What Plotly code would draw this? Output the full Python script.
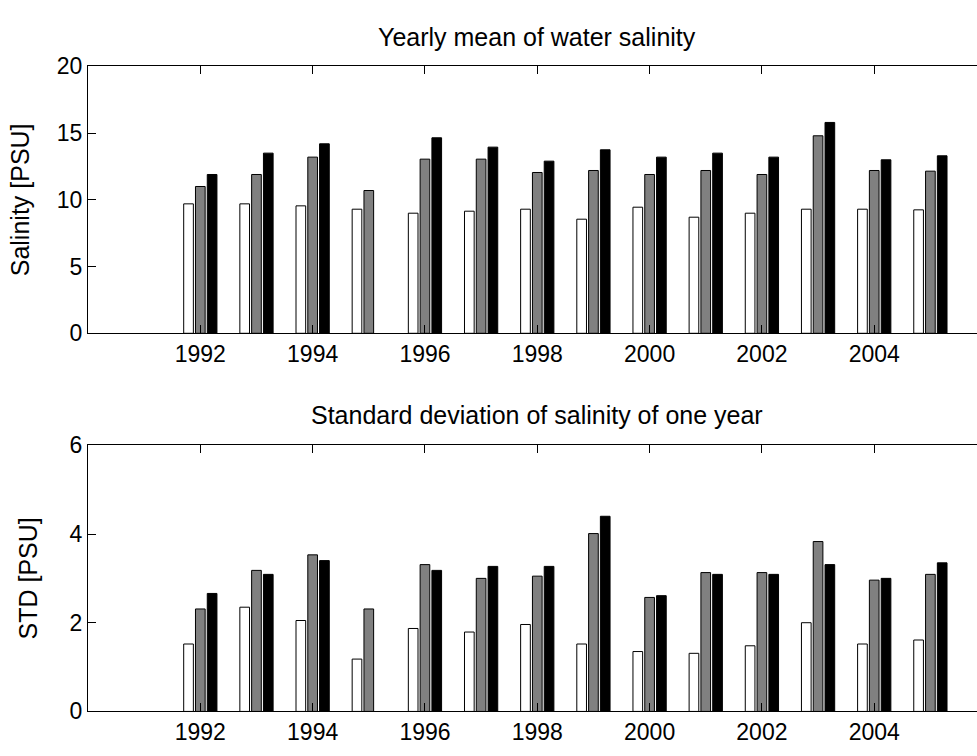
import plotly.graph_objects as go

years = list(range(1992, 2006))
tick_years = [1992, 1994, 1996, 1998, 2000, 2002, 2004]

mean_white = [9.7, 9.7, 9.55, 9.3, 9.0, 9.15, 9.3, 8.55, 9.45, 8.7, 9.0, 9.3, 9.3, 9.25]
mean_gray = [11.0, 11.9, 13.2, 10.7, 13.05, 13.05, 12.05, 12.2, 11.9, 12.2, 11.9, 14.8, 12.2, 12.15]
mean_black = [11.9, 13.5, 14.2, None, 14.65, 13.95, 12.9, 13.75, 13.2, 13.5, 13.2, 15.8, 13.0, 13.3]

std_white = [1.52, 2.35, 2.05, 1.18, 1.87, 1.79, 1.96, 1.52, 1.35, 1.31, 1.48, 2.0, 1.52, 1.61]
std_gray = [2.31, 3.18, 3.53, 2.31, 3.31, 3.0, 3.05, 4.01, 2.57, 3.13, 3.13, 3.83, 2.96, 3.09]
std_black = [2.66, 3.09, 3.40, None, 3.18, 3.27, 3.27, 4.40, 2.61, 3.09, 3.09, 3.31, 3.0, 3.35]

colors = ["#ffffff", "#808080", "#000000"]
FONT = "Liberation Sans, Arial, Helvetica, sans-serif"

fig = go.Figure()
for vals, c in zip([mean_white, mean_gray, mean_black], colors):
    fig.add_trace(go.Bar(x=years, y=vals, xaxis="x", yaxis="y", showlegend=False,
                         marker=dict(color=c, line=dict(color="#000000", width=1))))
for vals, c in zip([std_white, std_gray, std_black], colors):
    fig.add_trace(go.Bar(x=years, y=vals, xaxis="x2", yaxis="y2", showlegend=False,
                         marker=dict(color=c, line=dict(color="#000000", width=1))))

H = 756.0
def dom(top_px, bot_px):
    return [1 - bot_px / H, 1 - top_px / H]

xcommon = dict(range=[1990, 2005.83], tickvals=tick_years, ticks="inside", ticklen=8,
               tickcolor="black", showline=True, linecolor="black", linewidth=1,
               mirror="ticks", showgrid=False, zeroline=False,
               tickfont=dict(size=23, color="black"))
ycommon = dict(ticks="inside", ticklen=8, tickcolor="black", showline=True,
               linecolor="black", linewidth=1, mirror=False, showgrid=False,
               zeroline=False, tickfont=dict(size=23, color="black"))

fig.update_layout(
    width=977, height=756,
    margin=dict(l=88, r=0, t=0, b=0),
    paper_bgcolor="white", plot_bgcolor="white",
    font=dict(family=FONT, color="black"),
    barmode="group", bargap=0.37, bargroupgap=0.18,
    xaxis=dict(domain=[0, 1], anchor="y", **xcommon),
    yaxis=dict(domain=dom(55.3, 331.7), anchor="x", range=[0, 20],
               tickvals=[0, 5, 10, 15, 20],
               title=dict(text="Salinity [PSU]", font=dict(size=25), standoff=20),
               **ycommon),
    xaxis2=dict(domain=[0, 1], anchor="y2", **xcommon),
    yaxis2=dict(domain=dom(447.7, 723.3), anchor="x2", range=[0, 6],
                tickvals=[0, 2, 4, 6],
                title=dict(text="STD [PSU]", font=dict(size=25), standoff=24),
                **ycommon),
    annotations=[
        dict(text="Yearly mean of water salinity", xref="paper", yref="paper",
             x=0.505, y=1 - 25 / H, xanchor="center", yanchor="middle",
             showarrow=False, font=dict(size=25)),
        dict(text="Standard deviation of salinity of one year", xref="paper", yref="paper",
             x=0.505, y=1 - 416 / H, xanchor="center", yanchor="middle",
             showarrow=False, font=dict(size=25)),
    ],
)

fig.write_html("out.html")
